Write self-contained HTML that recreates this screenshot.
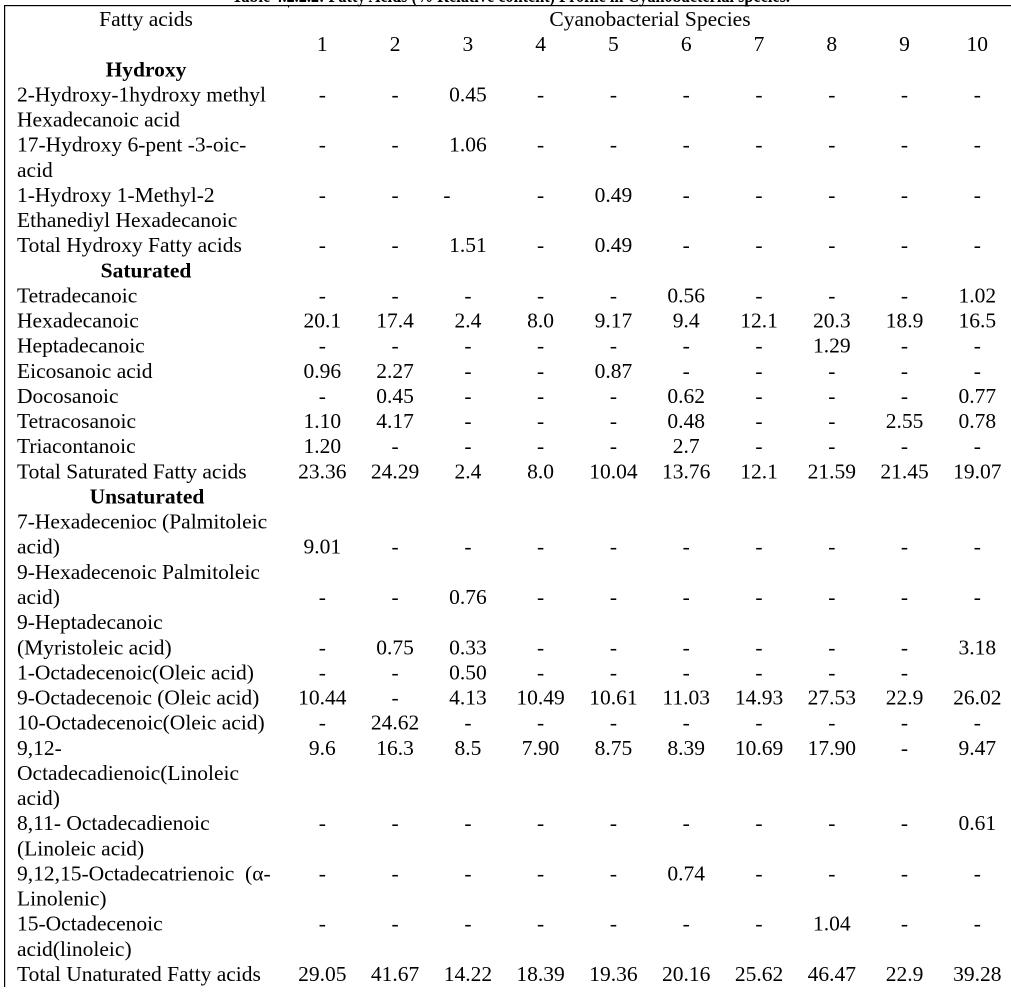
<!DOCTYPE html>
<html>
<head>
<meta charset="utf-8">
<style>
  html, body { margin:0; padding:0; background:#fff; }
  body { width:1011px; height:1005px; overflow:hidden; }
  svg { display:block; }
  text { font-family:"Liberation Serif","DejaVu Serif",serif; font-size:21.5px; fill:#000; }
  .c, .v tspan { text-anchor:middle; }
  .b { font-weight:bold; }
</style>
</head>
<body>
<svg width="1011" height="1005" viewBox="0 0 1011 1005" xmlns="http://www.w3.org/2000/svg">
  <!-- partially visible caption -->
  <text class="b" x="232" y="2" textLength="558" lengthAdjust="spacingAndGlyphs">Table 4.2.2.2: Fatty Acids (% Relative content) Profile in Cyanobacterial species.</text>
  <!-- borders -->
  <rect x="4" y="5" width="1007" height="1.2" fill="#000"/>
  <rect x="4" y="5" width="1.2" height="982" fill="#000"/>
  <rect x="288" y="5" width="1" height="2.5" fill="#000"/>

  <!-- header -->
  <text class="c" x="146" y="26">Fatty acids</text>
  <text class="c" x="650" y="26">Cyanobacterial Species</text>
  <text class="v" y="51.1"><tspan x="322.3">1</tspan><tspan x="395.1">2</tspan><tspan x="467.9">3</tspan><tspan x="540.6">4</tspan><tspan x="613.4">5</tspan><tspan x="686.2">6</tspan><tspan x="759">7</tspan><tspan x="831.8">8</tspan><tspan x="904.5">9</tspan><tspan x="977.3">10</tspan></text>

  <!-- Hydroxy -->
  <text class="c b" x="146" y="76.3">Hydroxy</text>
  <text x="17" y="101.4">2-Hydroxy-1hydroxy methyl</text>
  <text class="v" y="101.4"><tspan x="322.3">-</tspan><tspan x="395.1">-</tspan><tspan x="467.9">0.45</tspan><tspan x="540.6">-</tspan><tspan x="613.4">-</tspan><tspan x="686.2">-</tspan><tspan x="759">-</tspan><tspan x="831.8">-</tspan><tspan x="904.5">-</tspan><tspan x="977.3">-</tspan></text>
  <text x="17" y="126.5">Hexadecanoic acid</text>
  <text x="17" y="151.7">17-Hydroxy 6-pent -3-oic-</text>
  <text class="v" y="151.7"><tspan x="322.3">-</tspan><tspan x="395.1">-</tspan><tspan x="467.9">1.06</tspan><tspan x="540.6">-</tspan><tspan x="613.4">-</tspan><tspan x="686.2">-</tspan><tspan x="759">-</tspan><tspan x="831.8">-</tspan><tspan x="904.5">-</tspan><tspan x="977.3">-</tspan></text>
  <text x="17" y="176.8">acid</text>
  <text x="17" y="201.9">1-Hydroxy 1-Methyl-2</text>
  <text class="v" y="201.9"><tspan x="322.3">-</tspan><tspan x="395.1">-</tspan><tspan x="447">-</tspan><tspan x="540.6">-</tspan><tspan x="613.4">0.49</tspan><tspan x="686.2">-</tspan><tspan x="759">-</tspan><tspan x="831.8">-</tspan><tspan x="904.5">-</tspan><tspan x="977.3">-</tspan></text>
  <text x="17" y="227">Ethanediyl Hexadecanoic</text>
  <text x="17" y="252.2">Total Hydroxy Fatty acids</text>
  <text class="v" y="252.2"><tspan x="322.3">-</tspan><tspan x="395.1">-</tspan><tspan x="467.9">1.51</tspan><tspan x="540.6">-</tspan><tspan x="613.4">0.49</tspan><tspan x="686.2">-</tspan><tspan x="759">-</tspan><tspan x="831.8">-</tspan><tspan x="904.5">-</tspan><tspan x="977.3">-</tspan></text>

  <!-- Saturated -->
  <text class="c b" x="146" y="277.3">Saturated</text>
  <text x="17" y="302.4">Tetradecanoic</text>
  <text class="v" y="302.4"><tspan x="322.3">-</tspan><tspan x="395.1">-</tspan><tspan x="467.9">-</tspan><tspan x="540.6">-</tspan><tspan x="613.4">-</tspan><tspan x="686.2">0.56</tspan><tspan x="759">-</tspan><tspan x="831.8">-</tspan><tspan x="904.5">-</tspan><tspan x="977.3">1.02</tspan></text>
  <text x="17" y="327.6">Hexadecanoic</text>
  <text class="v" y="327.6"><tspan x="322.3">20.1</tspan><tspan x="395.1">17.4</tspan><tspan x="467.9">2.4</tspan><tspan x="540.6">8.0</tspan><tspan x="613.4">9.17</tspan><tspan x="686.2">9.4</tspan><tspan x="759">12.1</tspan><tspan x="831.8">20.3</tspan><tspan x="904.5">18.9</tspan><tspan x="977.3">16.5</tspan></text>
  <text x="17" y="352.7">Heptadecanoic</text>
  <text class="v" y="352.7"><tspan x="322.3">-</tspan><tspan x="395.1">-</tspan><tspan x="467.9">-</tspan><tspan x="540.6">-</tspan><tspan x="613.4">-</tspan><tspan x="686.2">-</tspan><tspan x="759">-</tspan><tspan x="831.8">1.29</tspan><tspan x="904.5">-</tspan><tspan x="977.3">-</tspan></text>
  <text x="17" y="377.8">Eicosanoic acid</text>
  <text class="v" y="377.8"><tspan x="322.3">0.96</tspan><tspan x="395.1">2.27</tspan><tspan x="467.9">-</tspan><tspan x="540.6">-</tspan><tspan x="613.4">0.87</tspan><tspan x="686.2">-</tspan><tspan x="759">-</tspan><tspan x="831.8">-</tspan><tspan x="904.5">-</tspan><tspan x="977.3">-</tspan></text>
  <text x="17" y="403">Docosanoic</text>
  <text class="v" y="403"><tspan x="322.3">-</tspan><tspan x="395.1">0.45</tspan><tspan x="467.9">-</tspan><tspan x="540.6">-</tspan><tspan x="613.4">-</tspan><tspan x="686.2">0.62</tspan><tspan x="759">-</tspan><tspan x="831.8">-</tspan><tspan x="904.5">-</tspan><tspan x="977.3">0.77</tspan></text>
  <text x="17" y="428.1">Tetracosanoic</text>
  <text class="v" y="428.1"><tspan x="322.3">1.10</tspan><tspan x="395.1">4.17</tspan><tspan x="467.9">-</tspan><tspan x="540.6">-</tspan><tspan x="613.4">-</tspan><tspan x="686.2">0.48</tspan><tspan x="759">-</tspan><tspan x="831.8">-</tspan><tspan x="904.5">2.55</tspan><tspan x="977.3">0.78</tspan></text>
  <text x="17" y="453.2">Triacontanoic</text>
  <text class="v" y="453.2"><tspan x="322.3">1.20</tspan><tspan x="395.1">-</tspan><tspan x="467.9">-</tspan><tspan x="540.6">-</tspan><tspan x="613.4">-</tspan><tspan x="686.2">2.7</tspan><tspan x="759">-</tspan><tspan x="831.8">-</tspan><tspan x="904.5">-</tspan><tspan x="977.3">-</tspan></text>
  <text x="17" y="478.3">Total Saturated Fatty acids</text>
  <text class="v" y="478.3"><tspan x="322.3">23.36</tspan><tspan x="395.1">24.29</tspan><tspan x="467.9">2.4</tspan><tspan x="540.6">8.0</tspan><tspan x="613.4">10.04</tspan><tspan x="686.2">13.76</tspan><tspan x="759">12.1</tspan><tspan x="831.8">21.59</tspan><tspan x="904.5">21.45</tspan><tspan x="977.3">19.07</tspan></text>

  <!-- Unsaturated -->
  <text class="c b" x="147" y="503.5">Unsaturated</text>
  <text x="17" y="528.6">7-Hexadecenioc (Palmitoleic</text>
  <text x="17" y="553.7">acid)</text>
  <text class="v" y="553.7"><tspan x="322.3">9.01</tspan><tspan x="395.1">-</tspan><tspan x="467.9">-</tspan><tspan x="540.6">-</tspan><tspan x="613.4">-</tspan><tspan x="686.2">-</tspan><tspan x="759">-</tspan><tspan x="831.8">-</tspan><tspan x="904.5">-</tspan><tspan x="977.3">-</tspan></text>
  <text x="17" y="578.9">9-Hexadecenoic Palmitoleic</text>
  <text x="17" y="604">acid)</text>
  <text class="v" y="604"><tspan x="322.3">-</tspan><tspan x="395.1">-</tspan><tspan x="467.9">0.76</tspan><tspan x="540.6">-</tspan><tspan x="613.4">-</tspan><tspan x="686.2">-</tspan><tspan x="759">-</tspan><tspan x="831.8">-</tspan><tspan x="904.5">-</tspan><tspan x="977.3">-</tspan></text>
  <text x="17" y="629.1">9-Heptadecanoic</text>
  <text x="17" y="654.3">(Myristoleic acid)</text>
  <text class="v" y="654.3"><tspan x="322.3">-</tspan><tspan x="395.1">0.75</tspan><tspan x="467.9">0.33</tspan><tspan x="540.6">-</tspan><tspan x="613.4">-</tspan><tspan x="686.2">-</tspan><tspan x="759">-</tspan><tspan x="831.8">-</tspan><tspan x="904.5">-</tspan><tspan x="977.3">3.18</tspan></text>
  <text x="17" y="679.4">1-Octadecenoic(Oleic acid)</text>
  <text class="v" y="679.4"><tspan x="322.3">-</tspan><tspan x="395.1">-</tspan><tspan x="467.9">0.50</tspan><tspan x="540.6">-</tspan><tspan x="613.4">-</tspan><tspan x="686.2">-</tspan><tspan x="759">-</tspan><tspan x="831.8">-</tspan><tspan x="904.5">-</tspan></text>
  <text x="17" y="704.5">9-Octadecenoic (Oleic acid)</text>
  <text class="v" y="704.5"><tspan x="322.3">10.44</tspan><tspan x="395.1">-</tspan><tspan x="467.9">4.13</tspan><tspan x="540.6">10.49</tspan><tspan x="613.4">10.61</tspan><tspan x="686.2">11.03</tspan><tspan x="759">14.93</tspan><tspan x="831.8">27.53</tspan><tspan x="904.5">22.9</tspan><tspan x="977.3">26.02</tspan></text>
  <text x="17" y="729.6">10-Octadecenoic(Oleic acid)</text>
  <text class="v" y="729.6"><tspan x="322.3">-</tspan><tspan x="395.1">24.62</tspan><tspan x="467.9">-</tspan><tspan x="540.6">-</tspan><tspan x="613.4">-</tspan><tspan x="686.2">-</tspan><tspan x="759">-</tspan><tspan x="831.8">-</tspan><tspan x="904.5">-</tspan><tspan x="977.3">-</tspan></text>
  <text x="17" y="754.8">9,12-</text>
  <text class="v" y="754.8"><tspan x="322.3">9.6</tspan><tspan x="395.1">16.3</tspan><tspan x="467.9">8.5</tspan><tspan x="540.6">7.90</tspan><tspan x="613.4">8.75</tspan><tspan x="686.2">8.39</tspan><tspan x="759">10.69</tspan><tspan x="831.8">17.90</tspan><tspan x="904.5">-</tspan><tspan x="977.3">9.47</tspan></text>
  <text x="17" y="779.9">Octadecadienoic(Linoleic</text>
  <text x="17" y="805">acid)</text>
  <text x="17" y="830.2">8,11- Octadecadienoic</text>
  <text class="v" y="830.2"><tspan x="322.3">-</tspan><tspan x="395.1">-</tspan><tspan x="467.9">-</tspan><tspan x="540.6">-</tspan><tspan x="613.4">-</tspan><tspan x="686.2">-</tspan><tspan x="759">-</tspan><tspan x="831.8">-</tspan><tspan x="904.5">-</tspan><tspan x="977.3">0.61</tspan></text>
  <text x="17" y="855.3">(Linoleic acid)</text>
  <text x="17" y="880.4">9,12,15-Octadecatrienoic &#160;(α-</text>
  <text class="v" y="880.4"><tspan x="322.3">-</tspan><tspan x="395.1">-</tspan><tspan x="467.9">-</tspan><tspan x="540.6">-</tspan><tspan x="613.4">-</tspan><tspan x="686.2">0.74</tspan><tspan x="759">-</tspan><tspan x="831.8">-</tspan><tspan x="904.5">-</tspan><tspan x="977.3">-</tspan></text>
  <text x="17" y="905.6">Linolenic)</text>
  <text x="17" y="930.7">15-Octadecenoic</text>
  <text class="v" y="930.7"><tspan x="322.3">-</tspan><tspan x="395.1">-</tspan><tspan x="467.9">-</tspan><tspan x="540.6">-</tspan><tspan x="613.4">-</tspan><tspan x="686.2">-</tspan><tspan x="759">-</tspan><tspan x="831.8">1.04</tspan><tspan x="904.5">-</tspan><tspan x="977.3">-</tspan></text>
  <text x="17" y="955.8">acid(linoleic)</text>
  <text x="17" y="980.9">Total Unaturated Fatty acids</text>
  <text class="v" y="980.9"><tspan x="322.3">29.05</tspan><tspan x="395.1">41.67</tspan><tspan x="467.9">14.22</tspan><tspan x="540.6">18.39</tspan><tspan x="613.4">19.36</tspan><tspan x="686.2">20.16</tspan><tspan x="759">25.62</tspan><tspan x="831.8">46.47</tspan><tspan x="904.5">22.9</tspan><tspan x="977.3">39.28</tspan></text>
</svg>
</body>
</html>
